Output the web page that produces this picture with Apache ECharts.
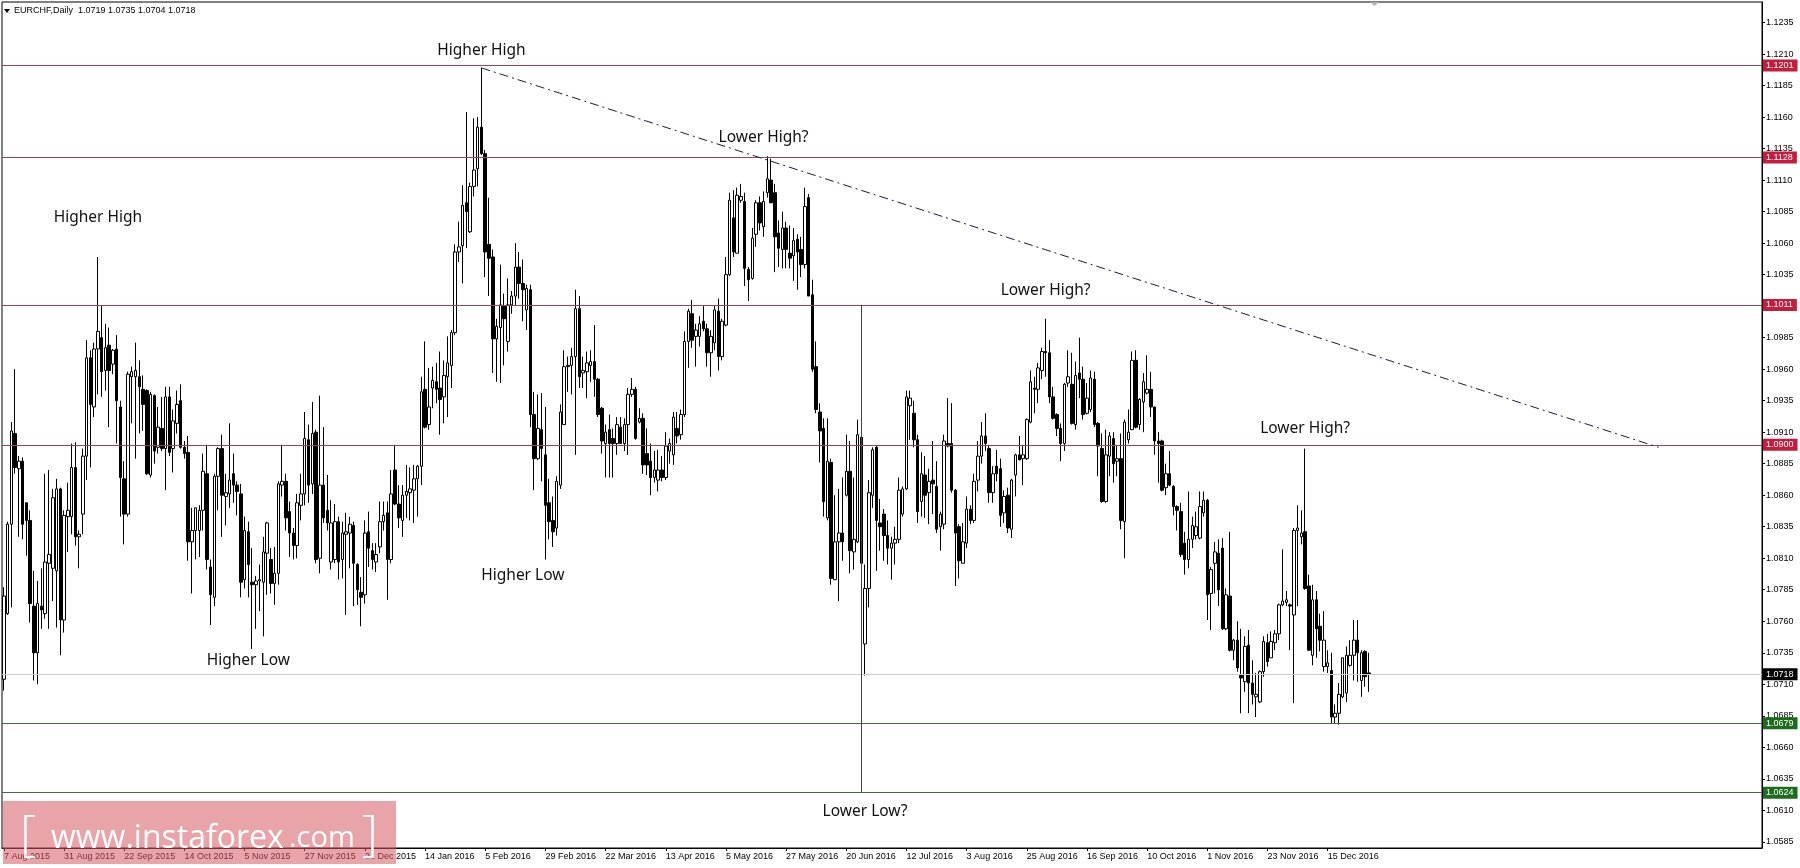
<!DOCTYPE html>
<html><head><meta charset="utf-8">
<script src="https://cdn.jsdelivr.net/npm/echarts/dist/echarts.min.js"></script>
<style>html,body{margin:0;padding:0;background:#fff}#c{width:1800px;height:868px}</style>
</head><body><div id="c"></div>
<script>
// Header
const symbolTitle = 'EURCHF,Daily';
const lastOHLC = ['1.0719', '1.0735', '1.0704', '1.0718'];

// Daily candles, prices expressed in pips above 1.0000 (e.g. 714 = 1.0714)
const openPips = [
714,766,837,909,881,887,854,840,772,735,772,766,806,802,800,865,761,843,843,882,827,845,891,969,930,976,985,959,979,964,976,930,873,845,954,954,954,944,943,876,939,898,913,897,938,897,917,935,898,894,823,832,832,
848,877,803,779,875,897,859,861,877,868,861,793,831,791,789,792,791,814,809,790,798,868,871,847,830,820,852,861,904,869,910,810,868,848,807,809,839,809,829,830,836,805,783,781,831,816,807,819,839,846,809,880,
853,840,860,862,864,873,883,944,916,945,950,945,938,954,963,989,1053,1058,1092,1069,1105,1119,1152,1131,1059,1049,984,993,1010,982,1011,1018,1041,1028,1007,1023,924,889,912,892,854,840,834,868,916,962,963,970,1008,957,958,963,
966,952,929,901,912,905,901,914,901,916,940,944,918,921,893,887,874,872,880,874,895,892,913,908,924,982,1004,986,986,998,992,973,981,1006,970,995,1035,1080,1052,1094,1093,1039,1032,1067,1092,1073,1100,1110,1100,1068,1055,
1072,1052,1050,1063,1055,1043,1096,1019,962,926,913,842,886,793,823,830,860,879,815,823,906,742,786,860,898,838,845,828,818,822,825,845,865,931,925,904,855,876,862,872,867,835,837,901,901,864,835,806,822,849,840,872,
891,907,897,862,883,881,846,860,833,876,892,889,889,918,945,944,959,974,973,938,924,913,901,949,948,916,957,952,925,928,952,917,897,855,891,905,887,889,839,904,912,967,916,934,941,944,930,903,903,866,877,867,
851,847,822,809,825,828,826,846,856,782,806,814,818,754,780,737,745,717,712,741,711,700,696,720,743,731,743,750,773,775,773,765,832,827,831,788,733,777,756,724,724,721,684,687,700,703,725,733,745,713,736,719
];
const closePips = [
780,837,911,882,887,837,840,774,735,774,769,807,813,858,865,761,844,848,882,827,829,891,969,932,976,990,958,977,959,975,935,874,845,956,958,959,946,932,877,940,895,914,897,938,894,919,932,898,893,823,832,850,848,
879,809,781,875,897,860,862,872,868,863,791,832,805,789,792,793,815,838,790,798,869,871,842,830,820,854,861,905,868,909,809,868,842,838,838,839,807,830,831,837,806,785,779,830,818,809,813,839,844,809,861,853,
842,860,863,865,873,883,942,914,930,951,944,936,955,965,989,1053,1057,1090,1085,1105,1118,1152,1131,1053,1048,984,994,1011,1000,1011,1018,1041,1028,1023,1024,924,889,913,897,852,839,831,871,926,962,963,970,1008,954,959,965,966,
952,924,903,910,901,901,916,901,916,940,944,905,921,884,884,874,880,880,874,899,901,922,907,924,982,1006,983,991,996,992,973,986,1007,970,998,1035,1094,1053,1098,1097,1040,1031,1064,1092,1076,1093,1111,1092,1065,1056,1072,
1055,1048,1062,1053,1043,1089,1018,960,928,911,855,887,794,823,830,823,879,816,825,908,806,786,862,896,840,835,828,818,822,825,864,865,938,937,904,847,877,860,871,869,833,845,903,899,864,830,808,823,849,840,871,891,
907,901,862,877,877,844,859,834,872,892,888,892,920,950,944,961,974,973,938,921,913,901,948,954,917,955,952,924,937,953,916,899,855,892,907,885,889,840,918,910,967,914,936,950,944,930,903,901,864,877,868,851,
848,813,809,825,836,835,851,856,781,801,815,785,754,781,737,745,723,715,740,711,702,702,720,744,728,744,750,773,776,777,772,832,834,830,786,737,777,754,745,745,727,684,687,702,731,733,733,745,735,735,716,718
];
const lowPips = [
705,765,771,877,827,825,812,759,713,710,754,762,754,776,755,733,751,815,829,820,802,829,872,882,922,940,938,943,914,956,901,843,821,843,917,889,909,911,876,874,885,893,895,864,891,878,909,897,889,808,782,809,811,
832,801,757,772,848,827,836,850,854,844,779,786,779,738,754,768,748,781,782,773,789,859,832,811,809,810,840,852,854,861,806,798,838,832,801,806,793,794,765,802,772,773,756,774,803,801,799,814,832,777,806,852,
834,827,842,840,838,843,868,913,912,929,933,908,917,922,945,987,1045,1028,1056,1068,1097,1105,1130,1033,1018,957,950,949,963,974,1004,1011,1016,998,991,914,864,888,871,809,825,819,828,865,916,942,940,892,945,945,937,950,
938,922,893,874,874,874,892,901,895,892,938,904,917,877,876,860,870,863,871,872,885,884,901,904,922,961,977,962,978,990,962,954,975,959,967,994,1034,1049,1052,1092,1026,1014,1031,1057,1070,1065,1096,1092,1037,1041,1040,
1040,1040,1030,1023,1033,1040,1018,958,925,886,843,840,789,793,776,808,859,798,801,822,803,717,771,850,800,816,808,805,793,805,822,843,864,904,898,838,843,842,837,845,830,816,833,898,862,788,794,806,818,837,838,863,
885,895,854,854,871,835,838,830,826,859,888,868,888,917,925,933,952,954,933,920,907,887,895,946,916,912,937,920,924,926,914,875,854,854,875,870,875,833,810,901,912,913,912,910,940,922,892,870,863,860,867,844,
832,811,797,802,818,825,825,843,761,753,782,772,753,753,736,729,720,687,704,687,694,684,695,716,724,731,737,745,772,772,737,695,772,821,785,737,725,731,736,720,719,679,679,678,699,696,724,713,712,700,708,704
];
const highPips = [
787,839,918,960,891,890,854,848,800,792,802,877,880,865,873,866,848,870,901,902,832,897,983,975,981,1049,1010,996,993,976,987,935,887,958,962,981,967,955,944,942,940,930,938,946,946,928,943,948,903,907,850,850,852,
893,900,809,877,898,908,877,917,893,871,869,843,839,818,796,805,827,839,818,819,871,900,877,855,834,861,877,926,916,934,912,939,914,876,856,853,843,839,846,843,839,806,795,840,847,822,822,855,855,855,880,900,
868,868,884,882,884,884,954,982,961,962,965,974,967,986,991,1059,1077,1106,1164,1108,1159,1160,1199,1134,1096,1055,1000,1043,1020,1032,1022,1060,1053,1047,1027,1027,942,940,941,930,873,859,875,932,975,970,977,1023,1018,970,974,975,
995,953,930,916,924,913,922,922,921,945,953,946,929,925,913,901,895,896,891,910,905,926,926,928,990,1008,1015,996,1002,1010,996,991,1010,1016,1000,1049,1100,1102,1104,1107,1100,1041,1072,1094,1097,1101,1129,1127,1107,1078,1085,
1077,1074,1072,1067,1065,1104,1099,1031,982,933,921,921,889,860,865,874,908,903,874,920,908,805,872,898,899,857,849,840,827,835,874,867,943,943,935,908,894,891,881,903,887,847,908,937,933,865,837,838,859,852,877,903,
918,925,899,883,896,889,864,866,873,893,907,899,921,959,954,965,977,1000,983,946,925,917,949,975,973,966,985,962,949,959,958,918,909,912,910,910,899,909,920,928,974,975,937,957,971,958,930,910,904,885,895,868,
852,854,831,863,843,847,863,863,857,803,823,825,826,786,831,746,760,754,748,753,729,719,721,748,750,752,753,774,817,784,774,834,852,848,897,797,789,784,766,768,737,735,694,711,731,740,745,761,761,737,737,735
];

// Horizontal levels
const resistanceLevels = [1.1201, 1.1128, 1.1011, 1.0900];
const supportLevels = [1.0679, 1.0624];
const bidPrice = 1.0718;

// Right axis tick labels
const yTickValues = [1.0585,1.0610,1.0635,1.0660,1.0685,1.0710,1.0735,1.0760,1.0785,1.0810,1.0835,1.0860,1.0885,1.0910,1.0935,1.0960,1.0985,1.1010,1.1035,1.1060,1.1085,1.1110,1.1135,1.1160,1.1185,1.1210,1.1235];

// Text annotations (bar index, price)
const annotationTexts = ['Higher High','Higher Low','Higher High','Higher Low','Lower High?','Lower High?','Lower High?','Lower Low?'];
const annotationBars  = [25, 65, 127, 138, 202, 277, 346, 229];
const annotationPrices = [1.1080, 1.0729, 1.1213, 1.0796, 1.1144, 1.1022, 1.0913, 1.0609];

// Drawn lines
const trendLineBars = [127, 440];
const trendLinePrices = [1.1199, 1.0898];
const verticalLineBar = 228;
const verticalLinePrices = [1.1011, 1.0624];

// Category slots (trading days; chart extends into empty future space)
const totalSlots = 468;
const lastLabelIndex = 352;
const skippedDays = ['2015-12-25', '2016-01-01'];
const monthNames = ['Jan','Feb','Mar','Apr','May','Jun','Jul','Aug','Sep','Oct','Nov','Dec'];
const categories = [];
(function () {
  const d = new Date(Date.UTC(2015, 7, 7));
  while (categories.length < totalSlots) {
    const wd = d.getUTCDay();
    const iso = d.toISOString().slice(0, 10);
    if (wd !== 0 && wd !== 6 && skippedDays.indexOf(iso) < 0) {
      categories.push(d.getUTCDate() + ' ' + monthNames[d.getUTCMonth()] + ' ' + d.getUTCFullYear());
    }
    d.setUTCDate(d.getUTCDate() + 1);
  }
})();

const toPrice = p => +(1 + p / 10000).toFixed(4);
const candleData = openPips.map((o, i) => {
  const O = toPrice(o), C = toPrice(closePips[i]);
  const L = Math.min(toPrice(lowPips[i]), O, C), H = Math.max(toPrice(highPips[i]), O, C);
  return [O, C, L, H];
});

const resColor = '#9a4557', resBox = '#c41c3c';
const supColor = '#3c6e3c', supBox = '#1d6b1d';
const labelFont = 'Liberation Sans';
const labelInterval = (idx) => idx % 16 === 0 && idx <= lastLabelIndex;

function levelLine(v, lineColor, boxColor, width) {
  return {
    yAxis: v,
    lineStyle: { color: lineColor, width: width, type: 'solid' },
    label: {
      show: true, position: 'end', distance: 1, formatter: v.toFixed(4),
      color: '#fff', backgroundColor: boxColor, padding: [2, 4, 1, 3],
      fontSize: 9, fontFamily: labelFont
    }
  };
}

const markLineData = [];
resistanceLevels.forEach(v => markLineData.push(levelLine(v, resColor, resBox, 1.2)));
supportLevels.forEach(v => markLineData.push(levelLine(v, supColor, supBox, 1.2)));
markLineData.push(levelLine(bidPrice, '#cccccc', '#000', 1));
const trendStyle = { color: '#1c1c38', width: 1, type: [9, 4, 2, 4] };
markLineData.push([
  { coord: [trendLineBars[0], trendLinePrices[0]], lineStyle: trendStyle, label: { show: false } },
  { coord: [trendLineBars[1], trendLinePrices[1]], lineStyle: trendStyle, label: { show: false } }
]);
const vStyle = { color: '#444', width: 1, type: 'solid' };
markLineData.push([
  { coord: [verticalLineBar, verticalLinePrices[0]], lineStyle: vStyle, label: { show: false } },
  { coord: [verticalLineBar, verticalLinePrices[1]], lineStyle: vStyle, label: { show: false } }
]);

const markPointData = annotationTexts.map((t, i) => ({
  coord: [annotationBars[i], annotationPrices[i]],
  symbol: 'circle', symbolSize: 0,
  label: { show: true, position: 'inside', formatter: t, color: '#111', fontSize: 15.5, fontFamily: 'Noto Sans' }
}));

const chart = echarts.init(document.getElementById('c'), null, { renderer: 'canvas' });
chart.setOption({
  animation: false,
  backgroundColor: '#fff',
  grid: { left: 2, right: 38, top: 2, bottom: 20, show: true, borderColor: '#000', borderWidth: 1, backgroundColor: '#fff' },
  xAxis: {
    type: 'category', data: categories, boundaryGap: true,
    axisLine: { show: true, lineStyle: { color: '#000', width: 1 } },
    axisTick: { show: true, interval: labelInterval, alignWithLabel: true, length: 3, lineStyle: { color: '#000' } },
    axisLabel: { interval: labelInterval, align: 'left', margin: 4, fontSize: 9, fontFamily: labelFont, color: '#000' },
    splitLine: { show: false }
  },
  yAxis: {
    type: 'value', position: 'right', min: 1.05801, max: 1.12513,
    axisLine: { show: true, lineStyle: { color: '#000', width: 1 } },
    axisTick: { show: true, length: 3, customValues: yTickValues, lineStyle: { color: '#000' } },
    axisLabel: { customValues: yTickValues, formatter: v => v.toFixed(4), fontSize: 9, fontFamily: labelFont, color: '#000', margin: 4 },
    splitLine: { show: false }
  },
  series: [{
    type: 'candlestick',
    data: candleData,
    barWidth: 3,
    clip: false,
    itemStyle: { color: '#fff', color0: '#000', borderColor: '#000', borderColor0: '#000', borderWidth: 1 },
    markLine: { silent: true, precision: 4, symbol: ['none', 'none'], animation: false, data: markLineData },
    markPoint: { silent: true, animation: false, data: markPointData }
  }],
  graphic: [
    { type: 'polygon', z: 100, shape: { points: [[4, 9], [10, 9], [7, 13]] }, style: { fill: '#000' } },
    { type: 'text', z: 100, style: { x: 14, y: 11, text: symbolTitle + '  ' + lastOHLC.join(' '), font: '9px "Liberation Sans"', fill: '#000', verticalAlign: 'middle' } },
    { type: 'polygon', z: 100, shape: { points: [[1370, 2], [1379, 2], [1374.5, 6]] }, style: { fill: '#b0b0b0' } },
    { type: 'rect', z: 100, shape: { x: 3, y: 801, width: 393, height: 63 }, style: { fill: 'rgba(214,90,96,0.55)' } },
    { type: 'text', z: 101, style: { x: 20, y: 862, text: '[', font: '300 50px "Open Sans"', fill: '#fff', verticalAlign: 'bottom' } },
    { type: 'text', z: 101, style: { x: 51, y: 855, text: 'www.instaforex', font: '32px "Open Sans"', fill: '#fff', verticalAlign: 'bottom' } },
    { type: 'text', z: 101, style: { x: 289, y: 853, text: '.com', font: '29px "Open Sans"', fill: '#fff', verticalAlign: 'bottom' } },
    { type: 'text', z: 101, style: { x: 362, y: 862, text: ']', font: '300 50px "Open Sans"', fill: '#fff', verticalAlign: 'bottom' } }
  ]
});
</script>
</body></html>
